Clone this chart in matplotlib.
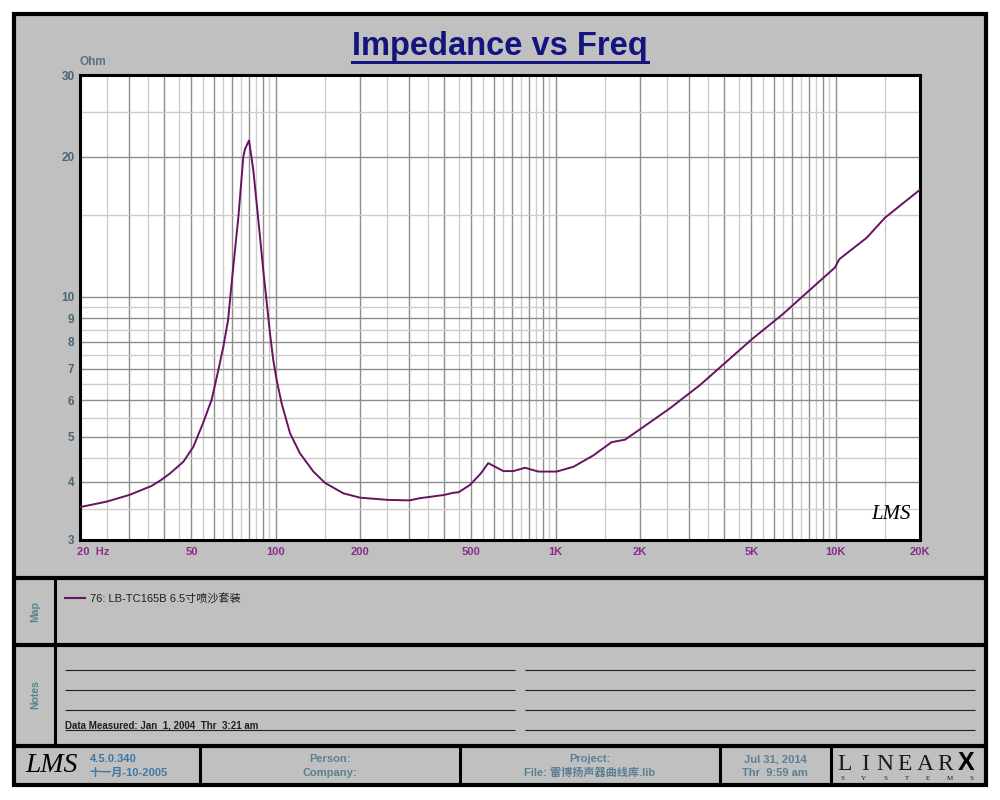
import numpy as np
import matplotlib
matplotlib.use('Agg')
import matplotlib.pyplot as plt
from matplotlib.lines import Line2D
from matplotlib.patches import Rectangle
from matplotlib.ticker import FixedLocator, FixedFormatter
import matplotlib.transforms as mtransforms

plt.rcParams['font.family'] = ['Liberation Sans', 'Noto Sans CJK SC', 'DejaVu Sans']

# impedance curve
freq_hz = [20, 25, 30, 36, 39, 41.9, 46.8, 50.8, 55, 59, 62.4, 65, 67.6, 69.8,
           73.6, 76.6, 77.7, 80.3, 83.2, 86.7, 90.3, 95.4, 98, 100.8, 105,
           112.5, 122, 136.3, 150, 174.4, 200, 250, 300, 327, 400, 430, 450, 494,
           540, 574, 650, 706, 777, 867, 1008, 1156, 1362, 1584, 1767, 2000, 2559,
           3275, 5010, 6500, 7870, 9930, 10300, 12900, 15000, 20000]
impedance_ohm = [3.53, 3.63, 3.75, 3.92, 4.04, 4.17, 4.42, 4.76, 5.35, 6.0, 6.96,
                 7.81, 8.92, 10.9, 14.9, 20.0, 20.8, 21.7, 18.7, 14.6, 11.4,
                 8.35, 7.31, 6.62, 5.9, 5.09, 4.61, 4.21, 3.98, 3.78, 3.70, 3.66,
                 3.65, 3.69, 3.75, 3.79, 3.80, 3.94, 4.17, 4.39, 4.22, 4.22, 4.29,
                 4.21, 4.21, 4.31, 4.56, 4.87, 4.93, 5.19, 5.76, 6.46, 8.10, 9.2,
                 10.2, 11.56, 12.05, 13.4, 14.8, 17.0]

x_tick_vals = [20, 50, 100, 200, 500, 1000, 2000, 5000, 10000, 20000]
x_tick_text = ['20  Hz', '50', '100', '200', '500', '1K', '2K', '5K', '10K', '20K']
y_tick_vals = [3, 4, 5, 6, 7, 8, 9, 10, 20, 30]
y_tick_text = ['3', '4', '5', '6', '7', '8', '9', '10', '20', '30']

legend_label = '76: LB-TC165B 6.5寸喷沙套装'
measured_text = 'Data Measured: Jan  1, 2004  Thr  3:21 am'

curve_col = '#681260'
bg_col = '#c0c0c0'
info_col = '#5b8093'

W, H = 1000, 800
fig = plt.figure(figsize=(10, 8), dpi=100, facecolor='white')


def fx(x):
    return x / W


def fy(y):
    return 1 - y / H


def line(x0, y0, x1, y1, lw, color='black'):
    fig.add_artist(Line2D([fx(x0), fx(x1)], [fy(y0), fy(y1)], lw=lw, color=color,
                          transform=fig.transFigure, solid_capstyle='butt'))


# outer frame and panels
fig.add_artist(Rectangle((fx(14), fy(785)), fx(986) - fx(14), fy(14) - fy(785),
                         facecolor=bg_col, edgecolor='black', lw=3,
                         transform=fig.transFigure, zorder=-5))
line(14, 578, 986, 578, 3)
line(14, 645, 986, 645, 3)
line(14, 746, 986, 746, 3)
line(55, 578, 55, 746, 2.2)
for xv in [200, 460, 720, 831]:
    line(xv, 746, xv, 785, 2.2)

# plot
ax = fig.add_axes([fx(80), fy(540), fx(920) - fx(80), fy(75) - fy(540)])
ax.set_facecolor('white')
ax.set_xscale('log')
ax.set_yscale('log')
ax.set_xlim(20, 20000)
ax.set_ylim(3, 30)

x_major = [m * 10 ** d for d in range(1, 5) for m in range(1, 10) if 20 <= m * 10 ** d <= 20000]
x_minor = [(m + 0.5) * 10 ** d for d in range(1, 5) for m in range(1, 10) if 20 <= (m + 0.5) * 10 ** d <= 20000]
y_major = [3, 4, 5, 6, 7, 8, 9, 10, 20, 30]
y_minor = [3.5, 4.5, 5.5, 6.5, 7.5, 8.5, 9.5, 15, 25]

ax.xaxis.set_major_locator(FixedLocator(x_major))
ax.xaxis.set_minor_locator(FixedLocator(x_minor))
ax.yaxis.set_major_locator(FixedLocator(y_major))
ax.yaxis.set_minor_locator(FixedLocator(y_minor))
xlab = dict(zip(x_tick_vals, x_tick_text))
ylab = dict(zip(y_tick_vals, y_tick_text))
ax.xaxis.set_major_formatter(FixedFormatter([xlab.get(v, '') for v in x_major]))
ax.yaxis.set_major_formatter(FixedFormatter([ylab.get(v, '') for v in y_major]))
ax.xaxis.set_minor_formatter(FixedFormatter([''] * len(x_minor)))
ax.yaxis.set_minor_formatter(FixedFormatter([''] * len(y_minor)))

ax.grid(which='major', color='#8e8e8e', lw=1.0)
ax.grid(which='minor', color='#cdcdcd', lw=1.0)
ax.set_axisbelow(True)
ax.tick_params(which='both', length=0)
ax.tick_params(axis='x', pad=5, labelsize=8, labelcolor='#8b2c8b')
ax.tick_params(axis='y', pad=4, labelsize=8.5, labelcolor='#4b6575')
for t in ax.get_xticklabels() + ax.get_yticklabels():
    t.set_fontweight('bold')
for t in ax.get_xticklabels():
    if t.get_text() == '20  Hz':
        t.set_horizontalalignment('left')
        t.set_transform(t.get_transform() + mtransforms.ScaledTranslation(-3 / 100, 0, fig.dpi_scale_trans))
for s in ax.spines.values():
    s.set_linewidth(2.2)
    s.set_color('black')

ax.plot(freq_hz, impedance_ohm, color=curve_col, lw=1.4, zorder=3)

ax.text(0.0, 1.015, 'Ohm', transform=ax.transAxes, fontsize=8.5, fontweight='bold',
        color='#5a7080', ha='left', va='bottom')
ax.text(0.965, 0.035, 'LMS', transform=ax.transAxes, fontsize=15, fontstyle='italic',
        family='Liberation Serif', color='black', ha='center', va='bottom')

# title with underline
title = fig.text(0.5, fy(55), 'Impedance vs Freq', ha='center', va='baseline',
                 fontsize=23.5, fontweight='bold', color='#14147e')
fig.canvas.draw()
bb = title.get_window_extent()
fig.add_artist(Line2D([bb.x0 / W, bb.x1 / W], [fy(61.5), fy(61.5)], lw=2.2,
                      color='#14147e', transform=fig.transFigure))

# map panel
fig.text(fx(35), fy(612), 'Map', rotation=90, ha='center', va='center',
         fontsize=7.5, fontweight='bold', color=info_col)
line(64, 598, 86, 598, 1.5, curve_col)
fig.text(fx(90), fy(598), legend_label, ha='left', va='center', fontsize=8, color='#1e1e1e')

# notes panel
fig.text(fx(35), fy(695), 'Notes', rotation=90, ha='center', va='center',
         fontsize=7.5, fontweight='bold', color=info_col)
for yv in [670, 690, 710, 730]:
    line(65, yv, 515, yv, 0.8, '#202020')
    line(525, yv, 975, yv, 0.8, '#202020')
fig.text(fx(65), fy(728), measured_text, ha='left', va='baseline', fontsize=7,
         fontweight='bold', color='#202020')

# footer
fig.text(fx(52), fy(766), 'LMS', ha='center', va='center', fontsize=20,
         fontstyle='italic', family='Liberation Serif', color='black')
fig.text(fx(90), fy(759), '4.5.0.340', ha='left', va='center', fontsize=8,
         fontweight='bold', color='#3d78a6')
fig.text(fx(90), fy(773), '十一月-10-2005', ha='left', va='center', fontsize=8,
         fontweight='bold', color='#3d78a6')
fig.text(fx(330), fy(759), 'Person:', ha='center', va='center', fontsize=8,
         fontweight='bold', color=info_col)
fig.text(fx(330), fy(773), 'Company:', ha='center', va='center', fontsize=8,
         fontweight='bold', color=info_col)
fig.text(fx(590), fy(759), 'Project:', ha='center', va='center', fontsize=8,
         fontweight='bold', color=info_col)
fig.text(fx(590), fy(773), 'File: 雷博扬声器曲线库.lib', ha='center', va='center', fontsize=8,
         fontweight='bold', color=info_col)
fig.text(fx(775), fy(759), 'Jul 31, 2014', ha='center', va='center', fontsize=8,
         fontweight='bold', color=info_col)
fig.text(fx(775), fy(773), 'Thr  9:59 am', ha='center', va='center', fontsize=8,
         fontweight='bold', color=info_col)

# LINEAR X logo
for i, ch in enumerate('LINEAR'):
    fig.text(fx(845 + i * 20), fy(770), ch, ha='center', va='baseline', fontsize=17,
             family='Liberation Serif', color='#1a1a1a')
fig.text(fx(966), fy(770), 'X', ha='center', va='baseline', fontsize=18,
         fontweight='bold', family='Liberation Sans', color='black')
for i, ch in enumerate('SYSTEMS'):
    fig.text(fx(842 + i * 21.5), fy(780), ch, ha='center', va='baseline', fontsize=5,
             family='Liberation Serif', color='#1a1a1a')

fig.savefig('out.png', dpi=100, facecolor='white')
